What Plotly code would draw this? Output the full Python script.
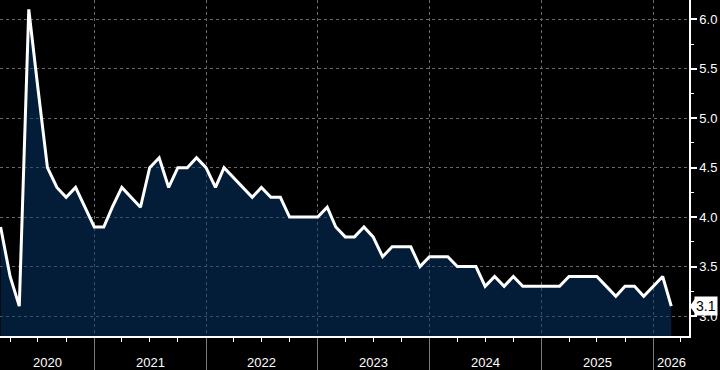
import plotly.graph_objects as go
import pandas as pd

# ---- data (monthly, first point March 2020) ----
start_month = "2020-03-01"
values = [
    3.9, 3.4, 3.1, 6.1, 5.3, 4.5, 4.3, 4.2, 4.3, 4.1,               # 2020 Mar-Dec
    3.9, 3.9, 4.1, 4.3, 4.2, 4.1, 4.5, 4.6, 4.3, 4.5, 4.5, 4.6,     # 2021
    4.5, 4.3, 4.5, 4.4, 4.3, 4.2, 4.3, 4.2, 4.2, 4.0, 4.0, 4.0,     # 2022
    4.0, 4.1, 3.9, 3.8, 3.8, 3.9, 3.8, 3.6, 3.7, 3.7, 3.7, 3.5,     # 2023
    3.6, 3.6, 3.6, 3.5, 3.5, 3.5, 3.3, 3.4, 3.3, 3.4, 3.3, 3.3,     # 2024
    3.3, 3.3, 3.3, 3.4, 3.4, 3.4, 3.4, 3.3, 3.2, 3.3, 3.3, 3.2,     # 2025
    3.3, 3.4, 3.1,                                                   # 2026 Jan-Mar
]
dates = pd.date_range(start_month, periods=len(values), freq="MS")

years = [2020, 2021, 2022, 2023, 2024, 2025, 2026]
year_labels = [str(y) for y in years]
x_range = ["2020-02-28", "2026-04-28"]
y_range = [2.798, 6.195]

FONT = "Liberation Sans Narrow, Arial Narrow, Liberation Sans, sans-serif"
GRID = "#6a6a6a"

fig = go.Figure()
fig.add_trace(go.Scatter(
    x=dates, y=values, mode="lines",
    line=dict(color="white", width=3),
    fill="tozeroy", fillcolor="rgba(6,58,112,0.5)",
    showlegend=False, hoverinfo="skip",
))

# year labels centred on the visible part of each year
r0, r1 = pd.Timestamp(x_range[0]), pd.Timestamp(x_range[1])
annotations = []
for y, lab in zip(years, year_labels):
    a = max(pd.Timestamp(f"{y}-01-01"), r0)
    b = min(pd.Timestamp(f"{y + 1}-01-01"), r1)
    mid = a + (b - a) / 2
    annotations.append(dict(
        x=mid, xref="x", y=0, yref="paper", yshift=-26, yanchor="middle",
        text=lab, showarrow=False, font=dict(family=FONT, size=13, color="white"),
    ))

# last value label
last = values[-1]
annotations.append(dict(
    x=1, xref="paper", xanchor="left", xshift=5, y=last, yref="y", yanchor="middle",
    text=f"{last:.1f}", showarrow=False, bgcolor="white", borderpad=1,
    font=dict(family=FONT, size=14, color="black"),
))
half = 7.5 / 99.2
fig.add_shape(
    type="path", xref="paper", yref="y",
    path=f"M 1.001,{last} L 1.0087,{last + half} L 1.0087,{last - half} Z",
    fillcolor="white", line=dict(width=0), layer="above",
)

fig.update_layout(
    width=720, height=370,
    margin=dict(l=0, r=31, t=0, b=34),
    paper_bgcolor="black", plot_bgcolor="black",
    annotations=annotations,
    xaxis=dict(
        type="date", range=x_range,
        tick0="2021-01-01", dtick="M12",
        showticklabels=False,
        ticks="outside", ticklen=34, tickcolor="#7a7a7a", tickwidth=1,
        showgrid=True, gridcolor=GRID, griddash="3px,3px", gridwidth=1,
        showline=True, linecolor="white", linewidth=2,
        minor=dict(dtick="M3", tick0="2020-01-01", ticks="outside", ticklen=4,
                   tickcolor="white", tickwidth=1, showgrid=False),
        zeroline=False,
    ),
    yaxis=dict(
        side="right", range=y_range,
        tick0=3.0, dtick=0.5, tickformat=".1f",
        ticks="outside", ticklen=6, tickwidth=2, tickcolor="white",
        tickfont=dict(family=FONT, size=13, color="white"),
        showgrid=True, gridcolor=GRID, griddash="3px,3px", gridwidth=1,
        showline=True, linecolor="white", linewidth=1.5,
        minor=dict(dtick=0.25, ticks="outside", ticklen=3, tickcolor="white",
                   tickwidth=1, showgrid=False),
        zeroline=False,
    ),
)

fig.write_html(
    "out.html",
    config={"displayModeBar": False},
    post_script="document.body.style.margin='0';document.body.style.background='black';",
)
